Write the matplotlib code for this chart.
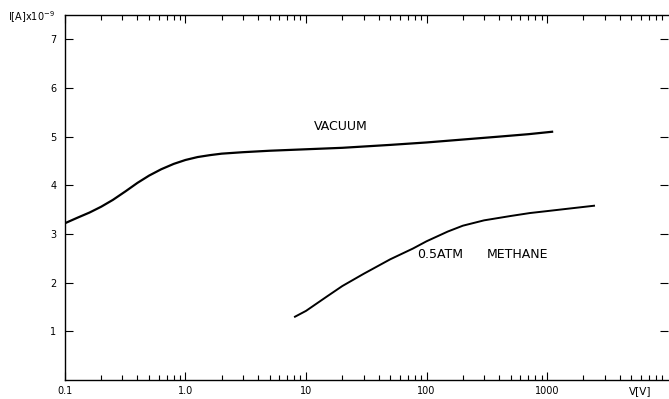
import numpy as np
import matplotlib
matplotlib.use("Agg")
import matplotlib.pyplot as plt
from matplotlib.ticker import LogLocator, FixedLocator, NullFormatter

# curves: voltage [V] and current [A x 1e-9]
vacuum_v = [0.1, 0.126, 0.16, 0.2, 0.25, 0.32, 0.4, 0.5, 0.63, 0.8, 1.0, 1.26, 1.6,
            2.0, 3.0, 5.0, 10, 20, 50, 100, 200, 400, 700, 1100]
vacuum_i = [3.22, 3.33, 3.44, 3.56, 3.70, 3.88, 4.05, 4.20, 4.33, 4.44, 4.52, 4.58, 4.62,
            4.65, 4.68, 4.71, 4.74, 4.77, 4.83, 4.88, 4.94, 5.00, 5.05, 5.10]

methane_v = [8.1, 10, 15, 20, 30, 50, 77, 100, 150, 200, 300, 500, 720, 1000, 1500, 2450]
methane_i = [1.30, 1.42, 1.72, 1.93, 2.18, 2.48, 2.70, 2.85, 3.05, 3.17, 3.28, 3.37,
             3.43, 3.47, 3.52, 3.58]

x_ticks = [0.1, 1, 10, 100, 1000]
x_labels = ["0.1", "1.0", "10", "100", "1000"]
y_ticks = [1, 2, 3, 4, 5, 6, 7]

fig = plt.figure(figsize=(6.69, 3.99), dpi=100)
ax = fig.add_axes([0.097, 0.0476, 0.901, 0.915])

ax.plot(vacuum_v, vacuum_i, color="black", lw=1.6)
ax.plot(methane_v, methane_i, color="black", lw=1.4)

ax.set_xscale("log")
ax.set_xlim(0.1, 10000)
ax.set_ylim(0, 7.5)

ax.xaxis.set_major_locator(FixedLocator(x_ticks))
ax.set_xticklabels(x_labels)
ax.xaxis.set_minor_locator(LogLocator(base=10, subs=np.arange(2, 10)))
ax.xaxis.set_minor_formatter(NullFormatter())
ax.set_yticks(y_ticks)

ax.tick_params(axis="both", which="both", direction="in", top=True, right=True,
               labelsize=7, color="black", width=0.8)
ax.tick_params(axis="x", which="major", length=6, pad=4)
ax.tick_params(axis="x", which="minor", length=3.5)
ax.tick_params(axis="y", which="major", length=6, pad=6)

for side in ["left", "bottom", "top"]:
    ax.spines[side].set_linewidth(1.0)
ax.spines["right"].set_visible(False)

# curve labels
ax.text(19.5, 5.2, "VACUUM", fontsize=9, ha="center", va="center")
ax.text(129, 2.57, "0.5ATM", fontsize=9, ha="center", va="center")
ax.text(564, 2.57, "METHANE", fontsize=9, ha="center", va="center")

fig.text(0.954 * 0.901 + 0.097, 0.02, "V[V]", fontsize=7.5, ha="center", va="center")
fig.text(0.012, 0.958, "I[A]x10$^{-9}$", fontsize=7, ha="left", va="center")

fig.savefig("out.png", dpi=100)
